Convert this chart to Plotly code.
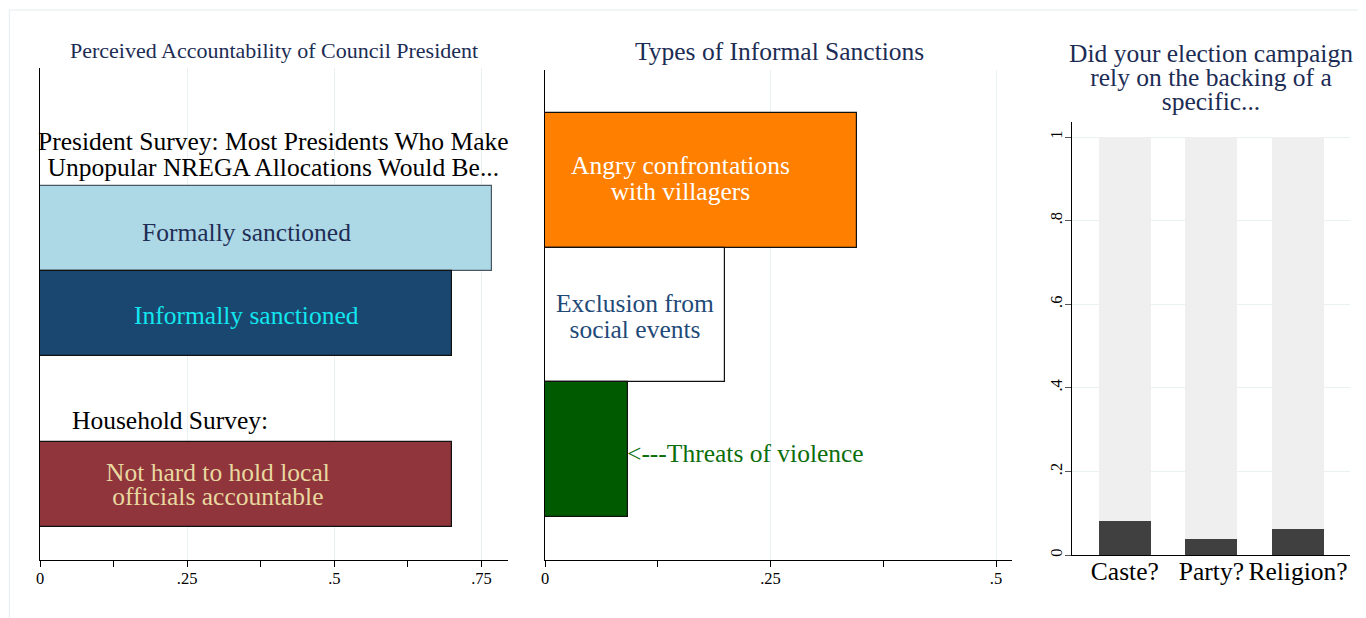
import plotly.graph_objects as go

OFF = 8          # page body margin in the browser
W, H = 1366 - OFF, 618 - OFF

# ---------------- data ----------------
acc_labels = ["Formally sanctioned", "Informally sanctioned", "Not hard to hold local<br>officials accountable"]
acc_values = [0.767, 0.700, 0.700]

sanc_labels = ["Angry confrontations<br>with villagers", "Exclusion from<br>social events", "<---Threats of violence"]
sanc_values = [0.346, 0.200, 0.092]

camp_cats = ["Caste?", "Party?", "Religion?"]
camp_values = [0.081, 0.038, 0.062]
camp_total = [1.0, 1.0, 1.0]

left_ticks = [0, 0.25, 0.5, 0.75]
left_ticktext = ["0", ".25", ".5", ".75"]
mid_ticks = [0, 0.25, 0.5]
mid_ticktext = ["0", ".25", ".5"]
right_ticks = [0, 0.2, 0.4, 0.6, 0.8, 1.0]
right_ticktext = ["0", ".2", ".4", ".6", ".8", "1"]

title_left = "Perceived Accountability of Council President"
title_mid = "Types of Informal Sanctions"
title_right = "Did your election campaign<br>rely on the backing of a<br>specific..."
note_president = "President Survey: Most Presidents Who Make<br>Unpopular NREGA Allocations Would Be..."
note_household = "Household Survey:"

# ---------------- styling ----------------
FONT = "Liberation Serif"
NAVY = "#1c2c54"
GRID = "#e9f1f3"
BIG = 25.5

acc_pos = [4, 3, 1]
acc_colors = ["#add8e6", "#1a476f", "#90353b"]
acc_line = ["#4a5864", "#111111", "#111111"]
acc_text_colors = ["#1f2d55", "#12e6ee", "#e8d8a0"]
acc_text_x = [0.35, 0.35, 0.302]
acc_text_shift = [-4, -2, 0]

sanc_pos = [3, 2, 1]
sanc_colors = ["#ff7f00", "#ffffff", "#005a00"]
sanc_text_colors = ["#ffffff", "#1f4a78", "#0b6e0b"]
sanc_text_x = [0.1497, 0.0998, 0.0885]
sanc_text_anchor = ["center", "center", "left"]
sanc_text_shift = [2, -1, -4]


def px(x):
    return (x - OFF) / W


def py(y):
    return 1 - (y - OFF) / H


def label(text, x, y, xref, yref, color, size, anchor="center", shift=0, spacing=25):
    """One annotation; tight line spacing comes from a small base font while
    each line is drawn at the full glyph size through an inline span."""
    lines = text.split("<br>")
    if len(lines) == 1:
        base = size
        body = text
    else:
        base = spacing / 1.3
        body = "<br>".join('<span style="font-size:%spx">%s</span>' % (size, ln) for ln in lines)
    return dict(x=x, y=y, xref=xref, yref=yref, text=body, showarrow=False,
                yshift=shift, xanchor=anchor, yanchor="middle", align="center",
                font=dict(family=FONT, size=base, color=color))


fig = go.Figure()

fig.add_trace(go.Bar(
    x=acc_values, y=acc_pos, orientation="h", width=1.0,
    marker=dict(color=acc_colors, line=dict(color=acc_line, width=1.2)),
    xaxis="x", yaxis="y", showlegend=False, hoverinfo="x",
))
fig.add_trace(go.Bar(
    x=sanc_values, y=sanc_pos, orientation="h", width=1.0,
    marker=dict(color=sanc_colors, line=dict(color="#111111", width=1.2)),
    xaxis="x2", yaxis="y2", showlegend=False, hoverinfo="x",
))
fig.add_trace(go.Bar(
    x=camp_cats, y=camp_total, width=0.6,
    marker=dict(color="#efefef", line=dict(width=0)),
    xaxis="x3", yaxis="y3", showlegend=False, hoverinfo="skip",
))
fig.add_trace(go.Bar(
    x=camp_cats, y=camp_values, width=0.6,
    marker=dict(color="#404040", line=dict(width=0)),
    xaxis="x3", yaxis="y3", showlegend=False, hoverinfo="y",
))

annotations = []
for lab, xv, yv, c, s in zip(acc_labels, acc_text_x, acc_pos, acc_text_colors, acc_text_shift):
    annotations.append(label(lab, xv, yv, "x", "y", c, BIG, shift=s, spacing=24))
annotations.append(label(note_president, 0.397, 4.868, "x", "y", "#000000", BIG, spacing=26))
annotations.append(label(note_household, 0.22, 1.75, "x", "y", "#000000", BIG))
for lab, xv, yv, c, a, s in zip(sanc_labels, sanc_text_x, sanc_pos, sanc_text_colors,
                                sanc_text_anchor, sanc_text_shift):
    annotations.append(label(lab, xv, yv, "x2", "y2", c, BIG, anchor=a, shift=s, spacing=26))

annotations.append(label(title_left, px(274), py(50), "paper", "paper", NAVY, 22))
annotations.append(label(title_mid, px(779), py(52), "paper", "paper", NAVY, BIG))
annotations.append(label(title_right, px(1211), py(77), "paper", "paper", NAVY, BIG, spacing=24))

tickfont = dict(family=FONT, size=16.5, color="#000000")

fig.update_layout(
    width=W, height=H,
    margin=dict(l=0, r=0, t=0, b=0),
    paper_bgcolor="white", plot_bgcolor="white",
    barmode="overlay",
    bargap=0,
    annotations=annotations,
    shapes=[
        dict(type="line", xref="paper", yref="paper", x0=0.001, x1=1, y0=py(10), y1=py(10),
             line=dict(color="#e4ecee", width=1)),
        dict(type="line", xref="paper", yref="paper", x0=0.001, x1=0.001, y0=py(10), y1=0,
             line=dict(color="#e4ecee", width=1)),
    ],
    xaxis=dict(domain=[px(40), px(508)], range=[0, 0.795], tickvals=left_ticks, ticktext=left_ticktext,
               showgrid=True, gridcolor=GRID, gridwidth=1, zeroline=False,
               showline=True, linecolor="#000000", linewidth=1.2,
               ticks="outside", ticklen=6, tickcolor="#000000", tickfont=tickfont,
               ticklabelstandoff=-3,
               minor=dict(dtick=0.125, tick0=0, ticks="outside", ticklen=6, tickcolor="#000000", showgrid=False),
               anchor="y", automargin=False, fixedrange=True),
    yaxis=dict(domain=[py(560), py(68)], range=[0.115, 5.876], showticklabels=False, ticks="",
               showgrid=False, zeroline=False, showline=True, linecolor="#000000", linewidth=1.2,
               anchor="x", automargin=False, fixedrange=True),
    xaxis2=dict(domain=[px(545), px(1012)], range=[0, 0.5177], tickvals=mid_ticks, ticktext=mid_ticktext,
                showgrid=True, gridcolor=GRID, gridwidth=1, zeroline=False,
                showline=True, linecolor="#000000", linewidth=1.2,
                ticks="outside", ticklen=6, tickcolor="#000000", tickfont=tickfont,
                ticklabelstandoff=-3,
                minor=dict(dtick=0.125, tick0=0, ticks="outside", ticklen=6, tickcolor="#000000", showgrid=False),
                anchor="y2", automargin=False, fixedrange=True),
    yaxis2=dict(domain=[py(560), py(70)], range=[0.183, 3.817], showticklabels=False, ticks="",
                showgrid=False, zeroline=False, showline=True, linecolor="#000000", linewidth=1.2,
                anchor="x2", automargin=False, fixedrange=True),
    xaxis3=dict(domain=[px(1072), px(1350)], range=[-0.61, 2.6], type="category",
                showgrid=False, zeroline=False, showline=True, linecolor="#000000", linewidth=1.2,
                ticks="", tickfont=dict(family=FONT, size=BIG, color="#000000"),
                ticklabelstandoff=-7,
                anchor="y3", automargin=False, fixedrange=True),
    yaxis3=dict(domain=[py(555), py(122)], range=[0, 1.036], tickvals=right_ticks, ticktext=right_ticktext,
                tickangle=-90, showgrid=True, gridcolor=GRID, gridwidth=1, zeroline=False,
                showline=True, linecolor="#000000", linewidth=1.2,
                ticks="outside", ticklen=6, tickcolor="#555555", tickfont=tickfont,
                ticklabelstandoff=-4,
                anchor="x3", automargin=False, fixedrange=True),
)

fig.write_html("out.html")
